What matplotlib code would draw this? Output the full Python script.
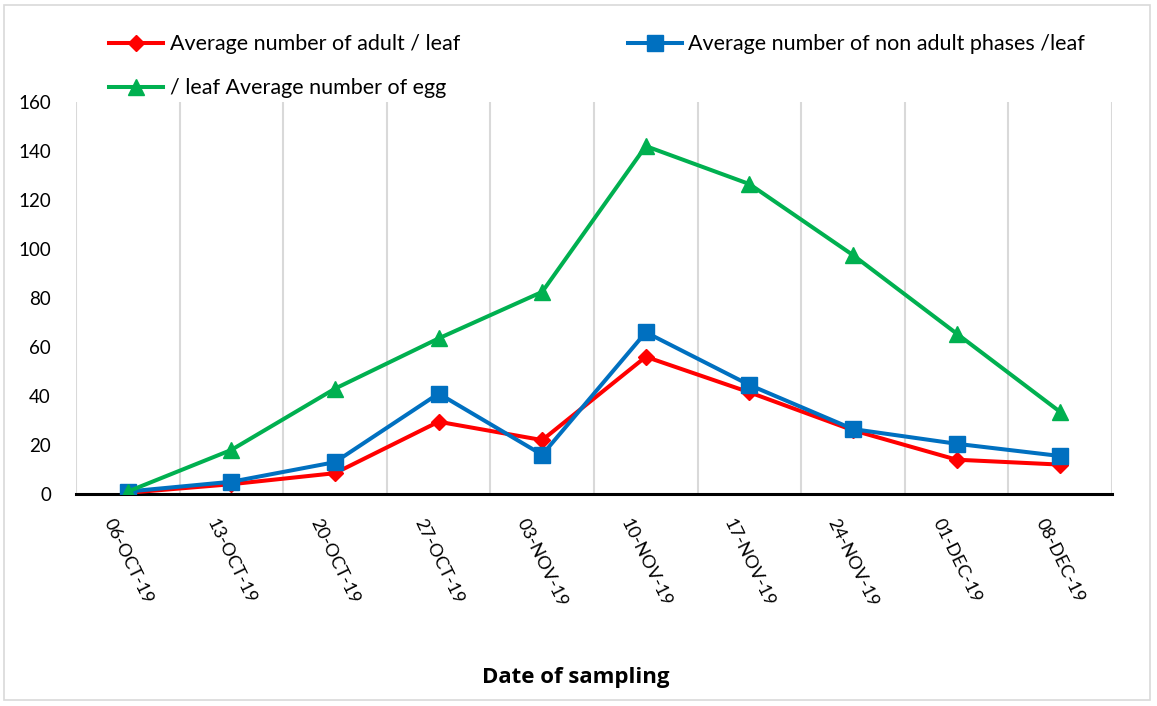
import matplotlib
matplotlib.use("Agg")
import matplotlib.pyplot as plt
from matplotlib.patches import Rectangle
import numpy as np

# Data
dates = ["06-OCT-19", "13-OCT-19", "20-OCT-19", "27-OCT-19", "03-NOV-19",
         "10-NOV-19", "17-NOV-19", "24-NOV-19", "01-DEC-19", "08-DEC-19"]
adult = [0.5, 4, 8.5, 29.5, 22, 56, 41.5, 26, 14, 12]
non_adult = [1, 5, 13, 41, 16, 66, 44.5, 26.5, 20.5, 15.5]
egg = [1, 18, 43, 63.5, 82.5, 142, 126.5, 97.5, 65.5, 33.5]

W, H = 1157, 706
fig = plt.figure(figsize=(W / 100, H / 100), dpi=100)
ax = fig.add_axes([76 / W, 1 - 494 / H, (1112 - 76) / W, (494 - 102) / H])

x = np.arange(len(dates))
l_red, = ax.plot(x, adult, color="#FF0000", lw=2.9, marker="D", ms=8,
                 label="Average number of adult / leaf", zorder=3)
l_blue, = ax.plot(x, non_adult, color="#0070C0", lw=2.9, marker="s", ms=11,
                  label="Average number of non adult phases /leaf", zorder=4)
l_green, = ax.plot(x, egg, color="#00B050", lw=2.9, marker="^", ms=11,
                   label="/ leaf Average number of egg", zorder=5)

ax.set_xlim(-0.5, len(dates) - 0.5)
ax.set_ylim(0, 160)
ax.set_yticks(np.arange(0, 161, 20))
ax.tick_params(axis="y", length=0, labelsize=13.5, pad=18)
for lab in ax.get_yticklabels():
    lab.set_fontfamily("Lato")

# vertical gridlines between categories
ax.set_xticks(np.arange(-0.5, len(dates), 1), minor=True)
ax.grid(True, which="minor", axis="x", color="#d9d9d9", lw=1.5)
ax.set_xticks(x)
ax.set_xticklabels(dates, rotation=-64, ha="center", va="top",
                   fontsize=13, family="Lato")
ax.tick_params(axis="x", which="both", length=0, pad=16)

for s in ["top", "right", "left"]:
    ax.spines[s].set_visible(False)
ax.spines["bottom"].set_color("black")
ax.spines["bottom"].set_linewidth(2.2)
ax.spines["bottom"].set_zorder(2)

# legend: red & green in first column, blue in second
leg = fig.legend([l_red, l_green, l_blue],
                 [l_red.get_label(), l_green.get_label(), l_blue.get_label()],
                 ncol=2, loc="upper left", bbox_to_anchor=(90 / W, 1 - 15 / H),
                 frameon=False, handlelength=2.5, handletextpad=0.3,
                 columnspacing=7.8, labelspacing=1.1,
                 prop={"family": "Lato", "size": 15.5})

fig.text(576 / W, 1 - 678 / H, "Date of sampling", ha="center", va="center",
         fontsize=16, fontweight="bold", family="Open Sans")

fig.patches.append(Rectangle((4 / W, 1 - 700 / H), 1146 / W, 695 / H,
                             transform=fig.transFigure, fill=False,
                             edgecolor="#d9d9d9", lw=1.2))

fig.savefig("out.png", dpi=100)
